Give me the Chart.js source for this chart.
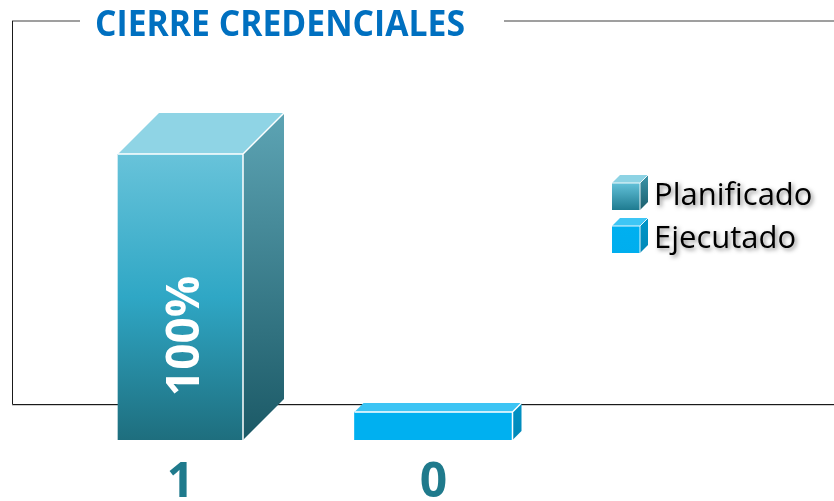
<!DOCTYPE html>
<html>
<head>
<meta charset="utf-8">
<title>Cierre credenciales</title>
<script src="https://cdn.jsdelivr.net/npm/chart.js@4.4.1/dist/chart.umd.min.js"></script>
<style>
  html, body { margin: 0; padding: 0; background: #ffffff; }
  #wrap { width: 834px; height: 501px; }
</style>
</head>
<body>
<div id="wrap"><canvas id="chart" width="834" height="501"></canvas></div>
<script>
// --- DATOS ---
const titulo = 'CIERRE CREDENCIALES';
const categorias = ['1', '0'];            // etiquetas bajo cada barra
const series = ['Planificado', 'Ejecutado'];
const planificado = [1, null];
const ejecutado = [null, 0];

const FONT = "'Open Sans', 'DejaVu Sans', sans-serif";

// dibuja un cubo pequeño (icono de leyenda)
function drawCube(ctx, x, y, w, h, d, c) {
    let g = ctx.createLinearGradient(0, y, 0, y + h);
    g.addColorStop(0, c.front[0]);
    g.addColorStop(1, c.front[1]);
    ctx.fillStyle = g;
    ctx.fillRect(x, y, w, h);
    ctx.fillStyle = c.top;
    ctx.beginPath();
    ctx.moveTo(x, y); ctx.lineTo(x + d, y - d); ctx.lineTo(x + w + d, y - d); ctx.lineTo(x + w, y);
    ctx.closePath(); ctx.fill();
    g = ctx.createLinearGradient(0, y - d, 0, y + h);
    g.addColorStop(0, c.side[0]);
    g.addColorStop(1, c.side[1]);
    ctx.fillStyle = g;
    ctx.beginPath();
    ctx.moveTo(x + w, y); ctx.lineTo(x + w + d, y - d); ctx.lineTo(x + w + d, y + h - d); ctx.lineTo(x + w, y + h);
    ctx.closePath(); ctx.fill();
    ctx.strokeStyle = 'rgba(255,255,255,0.9)';
    ctx.lineWidth = 1;
    ctx.beginPath();
    ctx.moveTo(x, y); ctx.lineTo(x + w, y); ctx.lineTo(x + w, y + h);
    ctx.moveTo(x + w, y); ctx.lineTo(x + w + d, y - d);
    ctx.stroke();
}

const cubosPlugin = {
    id: 'cubos',
    beforeDatasetsDraw(chart) {
        const ctx = chart.ctx;
        ctx.save();
        // marco
        ctx.strokeStyle = '#808080';
        ctx.lineWidth = 1.5;
        ctx.beginPath();
        ctx.moveTo(12, 21); ctx.lineTo(80, 21);
        ctx.moveTo(504, 21); ctx.lineTo(834, 21);
        ctx.stroke();
        ctx.strokeStyle = '#1a1a1a';
        ctx.lineWidth = 1;
        ctx.beginPath();
        ctx.moveTo(12.5, 21); ctx.lineTo(12.5, 404.5); ctx.lineTo(834, 404.5);
        ctx.stroke();
        ctx.strokeStyle = '#cfcfcf';
        ctx.beginPath();
        ctx.moveTo(12, 405.5); ctx.lineTo(834, 405.5);
        ctx.stroke();

        // titulo
        ctx.font = 'bold 36px ' + FONT;
        ctx.fillStyle = '#0070C0';
        ctx.textBaseline = 'alphabetic';
        ctx.textAlign = 'left';
        const w = ctx.measureText(titulo).width;
        ctx.translate(95, 36);
        ctx.scale(370 / w, 1);
        ctx.fillText(titulo, 0, 0);
        ctx.restore();
    },
    afterDatasetsDraw(chart) {
        const ctx = chart.ctx;
        ctx.save();
        chart.data.datasets.forEach((ds, i) => {
            const meta = chart.getDatasetMeta(i);
            meta.data.forEach((bar, j) => {
                if (ds.data[j] === null || !isFinite(bar.y)) return;
                const d = ds.depth;
                const x0 = bar.x - bar.width / 2, x1 = bar.x + bar.width / 2;
                const yt = bar.y, yb = bar.base;
                // cara superior
                ctx.fillStyle = ds.topColor;
                ctx.beginPath();
                ctx.moveTo(x0, yt); ctx.lineTo(x0 + d, yt - d); ctx.lineTo(x1 + d, yt - d); ctx.lineTo(x1, yt);
                ctx.closePath(); ctx.fill();
                // cara lateral
                const g = ctx.createLinearGradient(0, yt - d, 0, yb);
                g.addColorStop(0, ds.sideColors[0]);
                g.addColorStop(1, ds.sideColors[1]);
                ctx.fillStyle = g;
                ctx.beginPath();
                ctx.moveTo(x1, yt); ctx.lineTo(x1 + d, yt - d); ctx.lineTo(x1 + d, yb - d); ctx.lineTo(x1, yb);
                ctx.closePath(); ctx.fill();
                // bordes blancos
                ctx.strokeStyle = '#ffffff';
                ctx.lineWidth = 1.5;
                ctx.beginPath();
                ctx.moveTo(x0, yt); ctx.lineTo(x1, yt); ctx.lineTo(x1, yb);
                ctx.moveTo(x1, yt); ctx.lineTo(x1 + d, yt - d);
                ctx.stroke();

                // etiqueta porcentaje (vertical)
                const v = ds.data[j];
                if (v > 0) {
                    ctx.save();
                    ctx.translate(bar.x + 18, (yt + yb) / 2 + 39);
                    ctx.rotate(-Math.PI / 2);
                    ctx.font = 'bold 46px ' + FONT;
                    ctx.fillStyle = '#ffffff';
                    ctx.textAlign = 'center';
                    ctx.textBaseline = 'alphabetic';
                    ctx.fillText(Math.round(v * 100) + '%', 0, 0);
                    ctx.restore();
                }
            });
        });
        ctx.restore();
    },
    afterDraw(chart) {
        // leyenda
        const ctx = chart.ctx;
        const iconos = [
            { front: ['#62C1D9', '#1F7B90'], top: '#8DD3E4', side: ['#3C95AA', '#1B5E6C'] },
            { front: ['#00B0F0', '#00AEEE'], top: '#3EC6F5', side: ['#0096C8', '#0088B8'] }
        ];
        ctx.save();
        chart.data.datasets.forEach((ds, i) => {
            const y = 183 + i * 43;
            drawCube(ctx, 612, y, 28, 27, 8, iconos[i]);
            ctx.save();
            ctx.font = '31px ' + FONT;
            ctx.fillStyle = '#000000';
            ctx.textAlign = 'left';
            ctx.textBaseline = 'alphabetic';
            ctx.shadowColor = 'rgba(0,0,0,0.45)';
            ctx.shadowBlur = 4;
            ctx.shadowOffsetX = 2;
            ctx.shadowOffsetY = 2;
            ctx.fillText(ds.label, 654, y + 22);
            ctx.restore();
        });
        ctx.restore();
    }
};

function frontGradient(context) {
    const area = context.chart.chartArea;
    if (!area) return '#2FA6C4';
    const g = context.chart.ctx.createLinearGradient(0, area.top, 0, area.bottom);
    g.addColorStop(0, '#68C3DA');
    g.addColorStop(0.5, '#2FA7C5');
    g.addColorStop(1, '#1E6E7E');
    return g;
}

new Chart(document.getElementById('chart'), {
    type: 'bar',
    data: {
        labels: categorias,
        datasets: [
            {
                label: series[0],
                data: planificado,
                backgroundColor: frontGradient,
                borderWidth: 0,
                barThickness: 125,
                skipNull: true,
                depth: 41,
                topColor: '#8FD4E5',
                sideColors: ['#5DA4B4', '#1B5966']
            },
            {
                label: series[1],
                data: ejecutado,
                backgroundColor: '#00B0F0',
                borderWidth: 0,
                barThickness: 158,
                minBarLength: 28,
                skipNull: true,
                depth: 9,
                topColor: '#3CC4F4',
                sideColors: ['#0093C6', '#0088B8']
            }
        ]
    },
    options: {
        responsive: false,
        animation: false,
        layout: { padding: { left: 54, right: 274, top: 154, bottom: 0 } },
        scales: {
            x: {
                grid: { display: false, drawTicks: false },
                border: { display: false },
                ticks: {
                    color: '#1F7A8C',
                    padding: 15,
                    font: { family: FONT, size: 48, weight: 'bold' }
                },
                afterFit(scale) { scale.height = 61; }
            },
            y: { display: false, min: 0, max: 1 }
        },
        plugins: {
            legend: { display: false },
            tooltip: { enabled: false }
        }
    },
    plugins: [cubosPlugin]
});
</script>
</body>
</html>
